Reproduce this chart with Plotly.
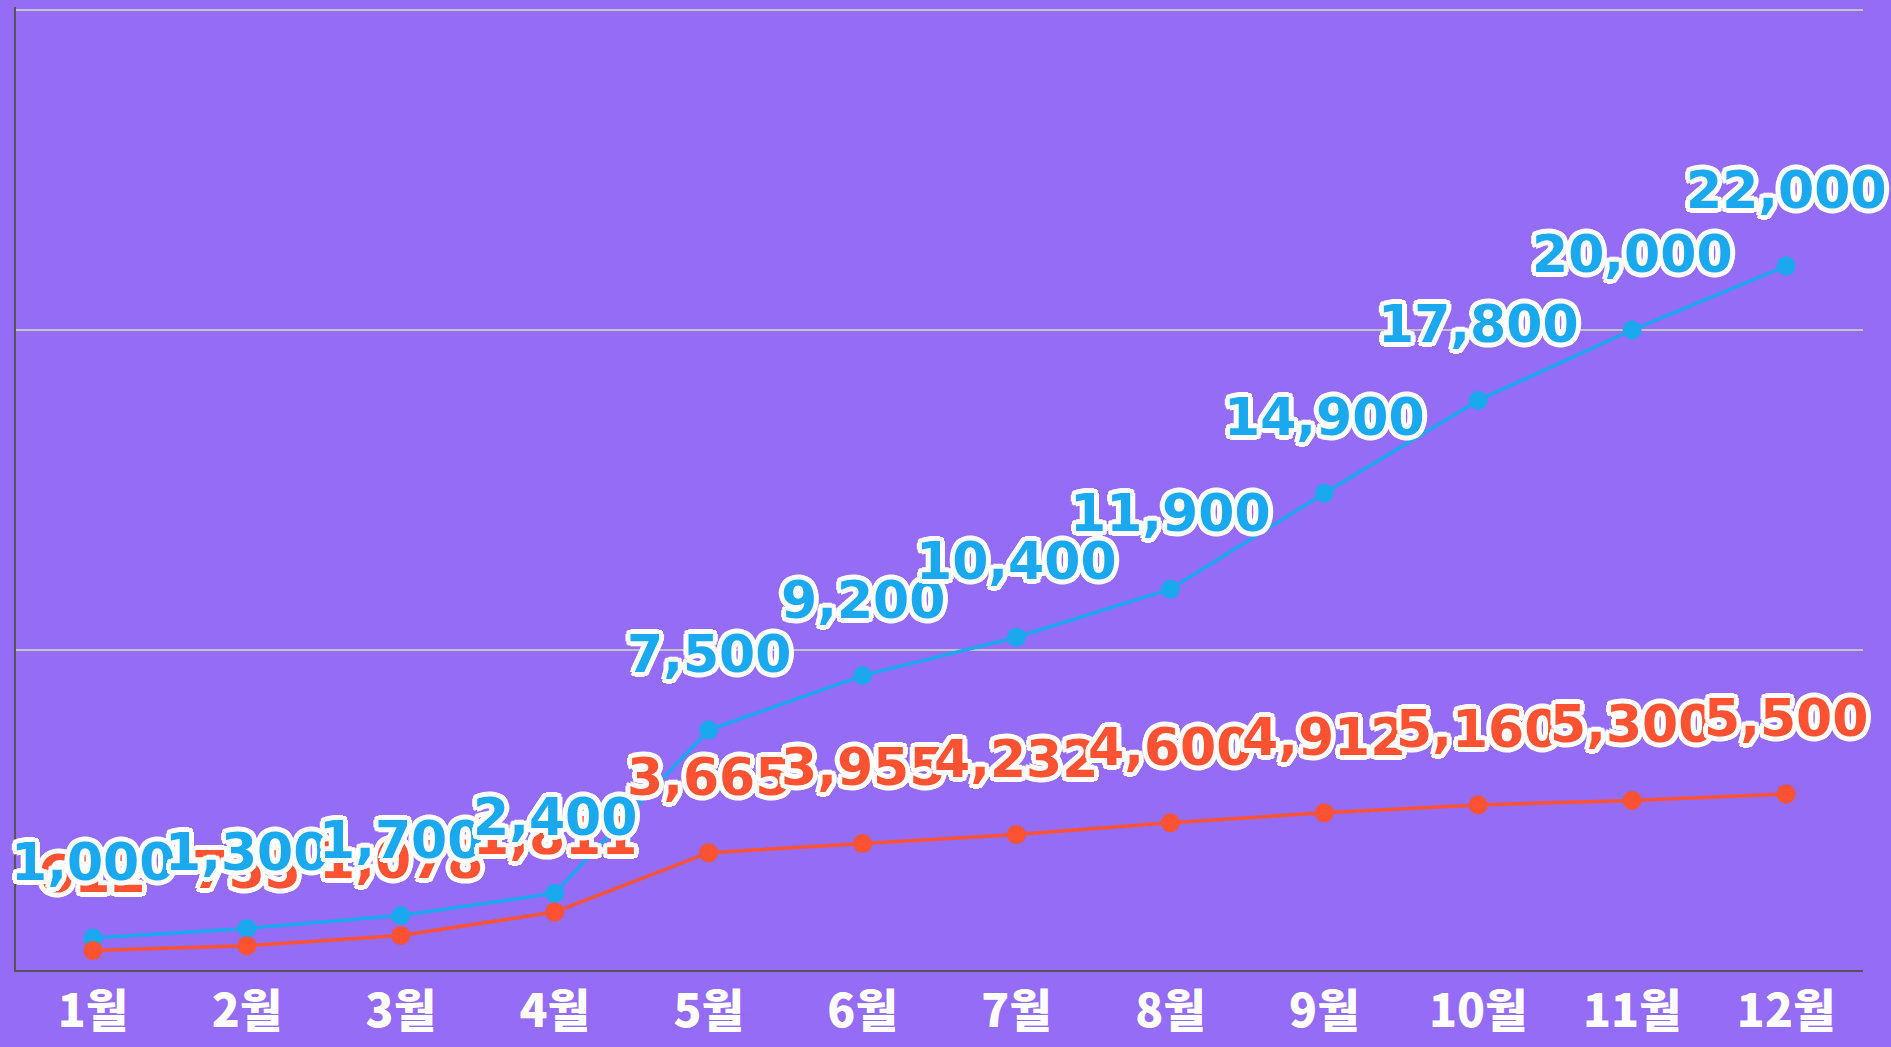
import plotly.graph_objects as go

months = ["1월", "2월", "3월", "4월", "5월", "6월", "7월", "8월", "9월", "10월", "11월", "12월"]
blue_values = [1000, 1300, 1700, 2400, 7500, 9200, 10400, 11900, 14900, 17800, 20000, 22000]
red_values = [612, 755, 1078, 1811, 3665, 3955, 4232, 4600, 4912, 5160, 5300, 5500]
grid_values = [10000, 20000, 30000]

BG = "#956cf5"
BLUE = "#1aa8ef"
RED = "#ff5233"

fig = go.Figure()
for vals, col in [(blue_values, BLUE), (red_values, RED)]:
    fig.add_trace(go.Scatter(
        x=months, y=vals, mode="lines+markers",
        line=dict(color=col, width=3.5),
        marker=dict(color=col, size=19),
        hoverinfo="skip", showlegend=False,
    ))

offs = []
for dx, dy in [(5, 0), (-5, 0), (0, 5), (0, -5), (4, 3), (-4, 3), (4, -3), (-4, -3),
               (3, 4), (-3, 4), (3, -4), (-3, -4), (2, 2), (-2, 2), (2, -2), (-2, -2)]:
    offs.append(f"white {dx}px {dy}px 0px")
shadow = ", ".join(offs)

annotations = []
for i, m in enumerate(months):
    for vals, col in [(red_values, RED), (blue_values, BLUE)]:
        annotations.append(dict(
            x=m, y=vals[i], xref="x", yref="y",
            text=f"{vals[i]:,}", showarrow=False, yshift=76,
            font=dict(family="DejaVu Sans", size=52, color=col, weight="bold", shadow=shadow),
        ))

fig.update_layout(
    width=1891, height=1047,
    margin=dict(l=16, r=28, t=7, b=77),
    paper_bgcolor=BG, plot_bgcolor=BG,
    annotations=annotations,
    xaxis=dict(
        type="category", showgrid=False, showline=True, linecolor="#555555", linewidth=2,
        ticks="", tickfont=dict(family="Noto Sans CJK KR", size=46, color="white", weight=900),
        range=[-0.5, 11.5],
    ),
    yaxis=dict(
        range=[0, 30094], tickvals=grid_values, showticklabels=False,
        showgrid=True, gridcolor="#c4c4c4", gridwidth=1.5,
        showline=True, linecolor="#555555", linewidth=2, zeroline=False, ticks="",
    ),
)

fig.write_html(
    "out.html",
    config={"displayModeBar": False},
    post_script=f"document.body.style.margin='0';document.body.style.overflow='hidden';document.body.style.background='{BG}';",
)
